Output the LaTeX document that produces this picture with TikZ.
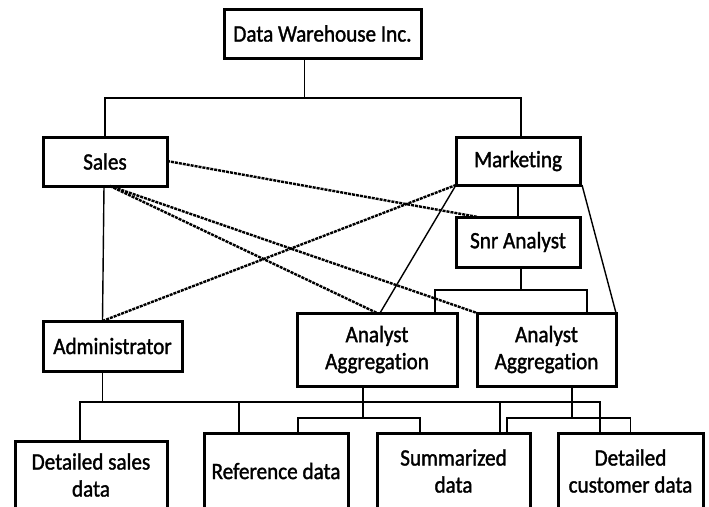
\documentclass[tikz,border=0pt]{standalone}
\usepackage{fontspec}
\setmainfont[FakeStretch=0.9,FakeBold=1.4,Ligatures=NoCommon]{Carlito}
\begin{document}
\begin{tikzpicture}[x=1pt,y=-1pt,
  box/.style={draw=black,line width=3pt,outer sep=0pt,inner sep=0pt,fill=white,
    align=center,font=\fontsize{23.5}{27}\selectfont},
  conn/.style={draw=black,line width=1.4pt},
  dconn/.style={draw=black,line width=2.4pt,dash pattern=on 3pt off 1pt}]
\useasboundingbox (0,0) rectangle (709,506);
\fill[white] (0,0) rectangle (709,506);
\clip (0,0) rectangle (709,506);
% nodes
\node[box,minimum width=197pt,minimum height=49pt] (dw) at (322.5,33.5) {Data Warehouse Inc.};
\node[box,minimum width=124pt,minimum height=49pt] (sales) at (105,161.5) {Sales};
\node[box,minimum width=124pt,minimum height=48pt] (mkt) at (518,161) {Marketing};
\node[box,minimum width=124pt,minimum height=50pt] (snr) at (518,242) {Snr Analyst};
\node[box,minimum width=139pt,minimum height=50pt] (admin) at (112.5,346) {Administrator};
\node[box,minimum width=160pt,minimum height=73pt] (aa1) at (377,349.5) {Analyst\\Aggregation};
\node[box,minimum width=139pt,minimum height=73pt] (aa2) at (546.5,349.5) {Analyst\\Aggregation};
\node[box,minimum width=152pt,minimum height=68pt] (dsd) at (91,475) {Detailed sales\\data};
\node[box,minimum width=144pt,minimum height=76pt] (ref) at (276,471) {Reference data};
\node[box,minimum width=153pt,minimum height=76pt] (sum) at (453.5,471) {Summarized\\data};
\node[box,minimum width=145pt,minimum height=76pt] (dcd) at (630.5,471) {Detailed\\customer data};
% top tree
\draw[conn] ([xshift=-18pt]dw.south) -- ++(0,40) coordinate (jtop);
\draw[conn] (jtop) -| (sales.north);
\draw[conn] (jtop) -| ([xshift=3pt]mkt.north);
\draw[conn] (mkt.south) -- (snr.north);
\draw[conn] ([xshift=3pt]snr.south) -- ++(0,23) coordinate (jsnr);
\draw[conn] (jsnr) -| ([xshift=58pt]aa1.north);
\draw[conn] (jsnr) -| ([xshift=40.5pt]aa2.north);
\draw[conn] ([xshift=-1pt]sales.south) -- ([xshift=-10pt]admin.north);
% diagonals
\draw[dconn] ([yshift=0.5pt]sales.east) -- ([xshift=22pt]snr.north west);
\draw[dconn] ([xshift=5pt]sales.south) -- (aa1.north);
\draw[dconn] ([xshift=5pt]sales.south) -- (aa2.north west);
\draw[dconn] ([xshift=-10pt]admin.north) -- (mkt.south west);
\draw[conn] (mkt.south west) -- ([xshift=3pt]aa1.north);
\draw[conn] ([xshift=2pt]mkt.south east) -- (aa2.north east);
% bottom buses
\draw[conn] ([xshift=-10pt]admin.south) -- ++(0,31) coordinate (jadm);
\draw[conn] ([xshift=-11pt]dsd.north) |- (jadm);
\draw[conn] (jadm) -| ([xshift=-37pt]ref.north);
\draw[conn] (jadm) -| ([xshift=46.5pt]sum.north);
\draw[conn] (jadm) -| ([xshift=-30.5pt]dcd.north);
\draw[conn] ([xshift=-14pt]aa1.south) -- ++(0,32) coordinate (jaa1);
\draw[conn] (jaa1) -| ([xshift=22pt]ref.north);
\draw[conn] (jaa1) -| ([xshift=-33.5pt]sum.north);
\draw[conn] ([xshift=25.5pt]aa2.south) -- ++(0,32) coordinate (jaa2);
\draw[conn] (jaa2) -| ([xshift=53.5pt]sum.north);
\draw[conn] (jaa2) -| (dcd.north);
\end{tikzpicture}
\end{document}
